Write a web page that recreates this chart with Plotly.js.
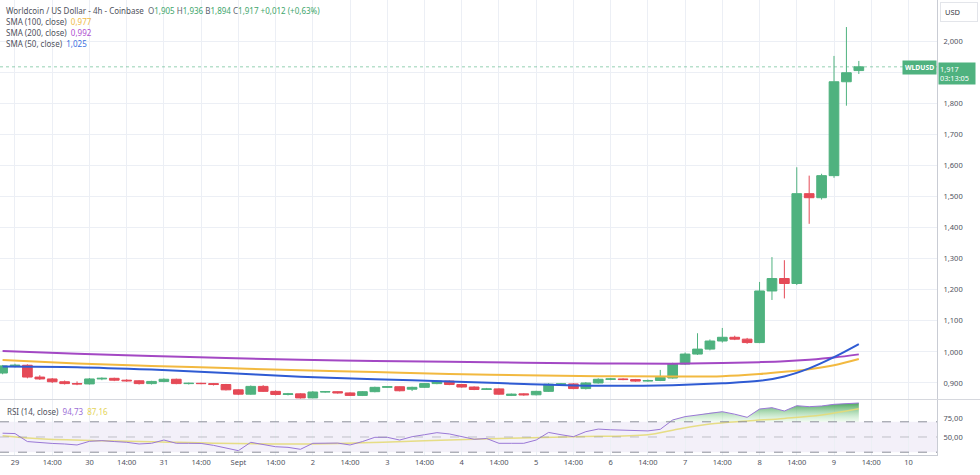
<!DOCTYPE html>
<html>
<head>
<meta charset="utf-8">
<script src="https://cdn.plot.ly/plotly-3.0.1.min.js"></script>
<style>
html,body{margin:0;padding:0;background:#fff;}
#chart{width:980px;height:475px;}
</style>
</head>
<body>
<div id="chart"></div>
<script>
// ---- candle times (4h) ----
const times = [
 '2023-08-28 22:00',
 '2023-08-29 02:00','2023-08-29 06:00','2023-08-29 10:00','2023-08-29 14:00','2023-08-29 18:00','2023-08-29 22:00',
 '2023-08-30 02:00','2023-08-30 06:00','2023-08-30 10:00','2023-08-30 14:00','2023-08-30 18:00','2023-08-30 22:00',
 '2023-08-31 02:00','2023-08-31 06:00','2023-08-31 10:00','2023-08-31 14:00','2023-08-31 18:00','2023-08-31 22:00',
 '2023-09-01 02:00','2023-09-01 06:00','2023-09-01 10:00','2023-09-01 14:00','2023-09-01 18:00','2023-09-01 22:00',
 '2023-09-02 02:00','2023-09-02 06:00','2023-09-02 10:00','2023-09-02 14:00','2023-09-02 18:00','2023-09-02 22:00',
 '2023-09-03 02:00','2023-09-03 06:00','2023-09-03 10:00','2023-09-03 14:00','2023-09-03 18:00','2023-09-03 22:00',
 '2023-09-04 02:00','2023-09-04 06:00','2023-09-04 10:00','2023-09-04 14:00','2023-09-04 18:00','2023-09-04 22:00',
 '2023-09-05 02:00','2023-09-05 06:00','2023-09-05 10:00','2023-09-05 14:00','2023-09-05 18:00','2023-09-05 22:00',
 '2023-09-06 02:00','2023-09-06 06:00','2023-09-06 10:00','2023-09-06 14:00','2023-09-06 18:00','2023-09-06 22:00',
 '2023-09-07 02:00','2023-09-07 06:00','2023-09-07 10:00','2023-09-07 14:00','2023-09-07 18:00','2023-09-07 22:00',
 '2023-09-08 02:00','2023-09-08 06:00','2023-09-08 10:00','2023-09-08 14:00','2023-09-08 18:00','2023-09-08 22:00',
 '2023-09-09 02:00','2023-09-09 06:00','2023-09-09 10:00'
];
const openP = [0.932,
 0.955,0.957,0.919,0.913,0.904,0.898,
 0.897,0.913,0.915,0.909,0.907,0.898,
 0.905,0.912,0.898,0.899,0.898,0.895,
 0.878,0.864,0.889,0.873,0.863,0.865,
 0.852,0.871,0.872,0.868,0.860,0.872,
 0.886,0.888,0.880,0.886,0.898,0.906,
 0.895,0.887,0.879,0.881,0.860,0.865,
 0.862,0.873,0.896,0.897,0.882,0.900,
 0.912,0.913,0.911,0.906,0.908,0.916,
 0.961,0.993,1.009,1.035,1.047,1.041,
 1.030,1.196,1.236,1.220,1.509,1.496,
 1.567,1.869,1.905];
const highP = [0.958,
 0.962,0.960,0.925,0.916,0.908,0.905,
 0.916,0.918,0.917,0.912,0.909,0.907,
 0.915,0.914,0.901,0.901,0.900,0.897,
 0.880,0.892,0.893,0.876,0.868,0.867,
 0.874,0.874,0.873,0.870,0.874,0.888,
 0.890,0.889,0.888,0.900,0.909,0.908,
 0.897,0.889,0.884,0.883,0.866,0.867,
 0.875,0.899,0.900,0.899,0.903,0.915,
 0.916,0.915,0.913,0.911,0.942,0.965,
 0.998,1.060,1.040,1.077,1.052,1.045,
 1.225,1.305,1.295,1.594,1.567,1.573,
 1.952,2.045,1.936];
const lowP = [0.928,
 0.950,0.915,0.910,0.900,0.895,0.893,
 0.895,0.909,0.906,0.904,0.895,0.895,
 0.902,0.896,0.895,0.896,0.892,0.876,
 0.861,0.862,0.871,0.860,0.860,0.850,
 0.851,0.869,0.866,0.858,0.858,0.870,
 0.884,0.873,0.874,0.884,0.896,0.893,
 0.885,0.877,0.878,0.862,0.858,0.859,
 0.860,0.871,0.893,0.880,0.879,0.898,
 0.909,0.909,0.904,0.904,0.906,0.914,
 0.958,0.990,1.005,1.030,1.038,1.026,
 1.028,1.167,1.172,1.215,1.412,1.490,
 1.560,1.792,1.894];
const closeP = [0.955,
 0.957,0.919,0.913,0.904,0.898,0.897,
 0.913,0.915,0.909,0.907,0.898,0.905,
 0.912,0.898,0.899,0.898,0.895,0.878,
 0.864,0.889,0.873,0.863,0.865,0.852,
 0.871,0.872,0.868,0.860,0.872,0.886,
 0.888,0.875,0.886,0.898,0.906,0.895,
 0.887,0.879,0.881,0.864,0.864,0.862,
 0.873,0.896,0.897,0.882,0.900,0.912,
 0.913,0.911,0.906,0.908,0.918,0.961,
 0.993,1.009,1.035,1.047,1.041,1.030,
 1.196,1.236,1.220,1.509,1.496,1.567,
 1.869,1.898,1.917];

// ---- moving averages (sampled) ----
const maTimes = ['2023-08-28 22:00','2023-08-29 22:00','2023-08-30 22:00','2023-08-31 22:00','2023-09-01 22:00',
 '2023-09-02 22:00','2023-09-03 22:00','2023-09-04 22:00','2023-09-05 22:00','2023-09-06 22:00',
 '2023-09-07 14:00','2023-09-08 02:00','2023-09-08 10:00','2023-09-08 18:00','2023-09-09 02:00','2023-09-09 10:00'];
const sma50  = [0.953,0.951,0.943,0.932,0.920,0.912,0.905,0.897,0.891,0.893,0.899,0.907,0.921,0.947,0.983,1.025];
const sma100 = [0.974,0.963,0.955,0.948,0.941,0.935,0.929,0.925,0.922,0.921,0.922,0.929,0.936,0.944,0.957,0.977];
const sma200 = [1.003,0.994,0.987,0.980,0.975,0.971,0.968,0.965,0.963,0.962,0.964,0.967,0.970,0.975,0.982,0.992];

// ---- RSI ----
const rsi = [55,
 54.5,44,42.5,41.5,40.8,39.5,
 44.3,45.2,44,43,40.8,41.7,
 46,41.7,41.7,41.5,39,35,
 32,43,40,37.2,36.4,33.8,
 41.7,41.8,42,39.5,44,49.6,
 49.6,46,50.4,53,55.7,54,
 50.4,47,48,41.7,41.7,41.7,
 46,56,53,50.4,57,60.4,
 59.5,59,58,58,60.1,72.4,
 76.8,78.9,82,83.3,80,75.9,
 86.8,88.6,84.2,91.2,89.9,90.8,
 93,93.8,94.73];
const rsiMaTimes = ['2023-08-28 22:00','2023-08-29 10:00','2023-08-30 06:00','2023-08-30 22:00','2023-08-31 18:00',
 '2023-09-01 22:00','2023-09-02 18:00','2023-09-03 14:00','2023-09-04 14:00','2023-09-05 14:00','2023-09-06 14:00',
 '2023-09-06 22:00','2023-09-07 10:00','2023-09-07 22:00','2023-09-08 10:00','2023-09-08 22:00','2023-09-09 10:00'];
const rsiMa = [51.7,47.6,45,43.8,41.7,40.8,42.4,45,48,50.4,53,59,67,71,74.5,79,87.16];

// ---- axis ticks ----
const xTickVals = ['2023-08-29 02:00','2023-08-29 14:00','2023-08-30 02:00','2023-08-30 14:00','2023-08-31 02:00','2023-08-31 14:00',
 '2023-09-01 02:00','2023-09-01 14:00','2023-09-02 02:00','2023-09-02 14:00','2023-09-03 02:00','2023-09-03 14:00',
 '2023-09-04 02:00','2023-09-04 14:00','2023-09-05 02:00','2023-09-05 14:00','2023-09-06 02:00','2023-09-06 14:00',
 '2023-09-07 02:00','2023-09-07 14:00','2023-09-08 02:00','2023-09-08 14:00','2023-09-09 02:00','2023-09-09 14:00','2023-09-10 02:00'];
const xTickText = ['29','14:00','30','14:00','31','14:00','Sept','14:00','2','14:00','3','14:00','4','14:00','5','14:00',
 '6','14:00','7','14:00','8','14:00','9','14:00','10'];
const priceTickVals = [0.9,1.0,1.1,1.2,1.3,1.4,1.5,1.6,1.7,1.8,1.9,2.0];
const priceTickText = ['0,900','1,000','1,100','1,200','1,300','1,400','1,500','1,600','1,700','1,800','','2,000'];
const rsiTickVals = [50,75];
const rsiTickText = ['50,00','75,00'];
const lastPrice = 1.917;

const GREEN = '#4fb27f', RED = '#e54a57';
const FONT = 'Noto Sans, DejaVu Sans, sans-serif';
const GRID = '#eceff5';

const traces = [
  {type:'scatter', mode:'lines', x:maTimes, y:sma200, line:{color:'#a348c4', width:2, shape:'spline'}, xaxis:'x', yaxis:'y', hoverinfo:'skip'},
  {type:'scatter', mode:'lines', x:maTimes, y:sma100, line:{color:'#f2b940', width:2, shape:'spline'}, xaxis:'x', yaxis:'y', hoverinfo:'skip'},
  {type:'scatter', mode:'lines', x:maTimes, y:sma50, line:{color:'#2f5bd3', width:2, shape:'spline'}, xaxis:'x', yaxis:'y', hoverinfo:'skip'},
  {type:'candlestick', x:times, open:openP, high:highP, low:lowP, close:closeP, xaxis:'x', yaxis:'y',
   increasing:{line:{color:GREEN, width:1}, fillcolor:GREEN},
   decreasing:{line:{color:RED, width:1}, fillcolor:RED},
   whiskerwidth:0, hoverinfo:'skip'},
  // RSI overbought fill
  {type:'scatter', mode:'lines', x:times, y:times.map(()=>70), line:{width:0, color:'rgba(0,0,0,0)'}, xaxis:'x', yaxis:'y2', hoverinfo:'skip'},
  {type:'scatter', mode:'lines', x:times, y:rsi.map(v=>Math.max(v,70)), line:{width:0, color:'rgba(0,0,0,0)'}, fill:'tonexty',
   fillgradient:{type:'vertical', start:70, stop:95, colorscale:[[0,'rgba(200,240,200,0.3)'],[1,'rgba(60,158,82,0.95)']]},
   xaxis:'x', yaxis:'y2', hoverinfo:'skip'},
  {type:'scatter', mode:'lines', x:rsiMaTimes, y:rsiMa, line:{color:'rgba(228,218,120,0.9)', width:1.5, shape:'spline'}, xaxis:'x', yaxis:'y2', hoverinfo:'skip'},
  {type:'scatter', mode:'lines', x:times, y:rsi, line:{color:'#9a78d6', width:1}, xaxis:'x', yaxis:'y2', hoverinfo:'skip'}
];

const gray = '#60636e';
function sp(c,t){return '<span style="color:'+c+'">'+t+'</span>';}
const G = '#3ea66c';
const legendLines = [
  'Worldcoin / US Dollar - 4h - Coinbase  ' + sp(gray,'O')+sp(G,'1,905')+' '+sp(gray,'H')+sp(G,'1,936')+' '+sp(gray,'B')+sp(G,'1,894')+' '+sp(gray,'C')+sp(G,'1,917')+' '+sp(G,'+0,012 (+0,63%)'),
  'SMA (100, close)  ' + sp('#f0bb45','0,977'),
  'SMA (200, close)  ' + sp('#b04fd0','0,992'),
  'SMA (50, close)  ' + sp('#3a6fe0','1,025')
];
const legendY = [10, 21.5, 32.5, 43.5];

const annotations = legendLines.map((t,i)=>({
  xref:'paper', yref:'paper', x:0, y:1, xanchor:'left', yanchor:'middle', xshift:4, yshift:-legendY[i],
  text:t, showarrow:false, font:{family:FONT, size:8, color:'#4f525c'}
}));
annotations.push({xref:'paper', yref:'paper', x:0, y:1, xanchor:'left', yanchor:'middle', xshift:5, yshift:-411,
  text:'RSI (14, close)  '+sp('#9c6fd6','94,73')+'  '+sp('#e4d458','87,16'), showarrow:false, font:{family:FONT, size:8, color:'#4f525c'}});
annotations.push({xref:'paper', yref:'y', x:1, y:lastPrice, xanchor:'right', yanchor:'middle', xshift:0, yshift:-1,
  text:'<b>WLDUSD</b>', showarrow:false, bgcolor:GREEN, borderpad:2, font:{family:FONT, size:6.8, color:'#ffffff'}});
annotations.push({xref:'paper', yref:'y', x:1, y:lastPrice, xanchor:'left', yanchor:'top', xshift:1, yshift:5,
  text:'1,917<br>03:13:05', align:'left', showarrow:false, bgcolor:GREEN, borderpad:1, width:34, font:{family:FONT, size:7.3, color:'#ffffff'}});
annotations.push({xref:'paper', yref:'paper', x:1, y:1, xanchor:'left', yanchor:'top', xshift:3, yshift:-2,
  text:'USD', showarrow:false, bgcolor:'#ffffff', bordercolor:'#e3e5ea', borderwidth:1, borderpad:4, width:28, align:'left',
  font:{family:FONT, size:7.5, color:'#3a3d47'}});

const shapes = [
  {type:'rect', xref:'paper', yref:'y2', x0:0, x1:1, y0:30, y1:70, fillcolor:'rgba(126,87,194,0.09)', line:{width:0}, layer:'below'},
  {type:'line', xref:'paper', yref:'y2', x0:0, x1:1, y0:70, y1:70, line:{color:'#8c8f99', width:1, dash:'dash'}},
  {type:'line', xref:'paper', yref:'y2', x0:0, x1:1, y0:50, y1:50, line:{color:'rgba(140,143,153,0.5)', width:1, dash:'dash'}},
  {type:'line', xref:'paper', yref:'y2', x0:0, x1:1, y0:30, y1:30, line:{color:'#8c8f99', width:1, dash:'dash'}},
  {type:'line', xref:'paper', yref:'y', x0:0, x1:1, y0:lastPrice, y1:lastPrice, line:{color:'rgba(79,178,127,0.6)', width:1, dash:'dot'}},
  {type:'line', xref:'paper', yref:'paper', x0:0, x1:1.046, y0:0.1220, y1:0.1220, line:{color:'#d6d8de', width:1}}
];

const layout = {
  width:980, height:475,
  margin:{l:0, r:43, t:0, b:20},
  paper_bgcolor:'#ffffff', plot_bgcolor:'#ffffff',
  showlegend:false, hovermode:false,
  boxgap:0.22, boxgroupgap:0,
  font:{family:FONT, size:7.5, color:'#50535e'},
  xaxis:{type:'date', range:['2023-08-28 21:10','2023-09-10 11:12'], anchor:'y2', domain:[0,1],
    tickmode:'array', tickvals:xTickVals, ticktext:xTickText, ticks:'', showgrid:true, gridcolor:GRID, gridwidth:1,
    showline:true, linecolor:'#c9ccd4', linewidth:1, zeroline:false, rangeslider:{visible:false},
    tickfont:{family:FONT, size:7.5, color:'#50535e'}, fixedrange:true},
  yaxis:{domain:[0.1231,1], range:[0.8485,2.132], side:'right', anchor:'x',
    tickmode:'array', tickvals:priceTickVals, ticktext:priceTickText, ticks:'outside', ticklen:4, tickcolor:'rgba(0,0,0,0)',
    showgrid:true, gridcolor:GRID, gridwidth:1, showline:true, linecolor:'#c9ccd4', linewidth:1, zeroline:false,
    tickfont:{family:FONT, size:7.5, color:'#50535e'}, fixedrange:true},
  yaxis2:{domain:[0,0.1209], range:[26.3,98.7], side:'right', anchor:'x',
    tickmode:'array', tickvals:rsiTickVals, ticktext:rsiTickText, ticks:'outside', ticklen:4, tickcolor:'rgba(0,0,0,0)',
    showgrid:false, showline:true, linecolor:'#c9ccd4', linewidth:1, zeroline:false,
    tickfont:{family:FONT, size:7.5, color:'#50535e'}, fixedrange:true},
  shapes:shapes,
  annotations:annotations
};

Plotly.newPlot('chart', traces, layout, {displayModeBar:false, staticPlot:true});
</script>
</body>
</html>
